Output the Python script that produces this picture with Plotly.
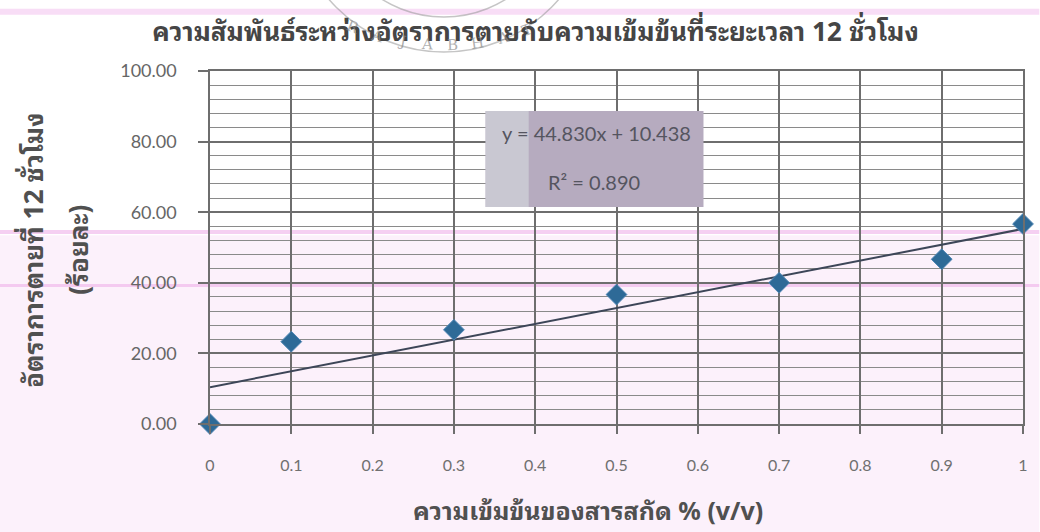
import numpy as np
import plotly.graph_objects as go

# Extract concentration (% v/v) and 12-hour mortality (%)
concentration = [0, 0.1, 0.3, 0.5, 0.7, 0.9, 1.0]
mortality_12h = [0.00, 23.33, 26.67, 36.67, 40.00, 46.67, 56.67]

# Linear trendline as reported on the chart
slope = 44.830
intercept = 10.438
r_squared = 0.890

x_ticks = [0, 0.1, 0.2, 0.3, 0.4, 0.5, 0.6, 0.7, 0.8, 0.9, 1]

title_text = "ความสัมพันธ์ระหว่างอัตราการตายกับความเข้มข้นที่ระยะเวลา 12 ชั่วโมง"
y_title_1 = "อัตราการตายที่ 12 ชั่วโมง"
y_title_2 = "(ร้อยละ)"
x_title = "ความเข้มข้นของสารสกัด % (v/v)"

THAI_FONT = "Noto Sans Thai Looped, Noto Serif Thai, Noto Sans, DejaVu Sans, sans-serif"
NUM_FONT = "Lato, Open Sans, sans-serif"

trend_x = np.array([x_ticks[0], x_ticks[-1]], dtype=float)
trend_y = slope * trend_x + intercept

fig = go.Figure()

fig.add_trace(go.Scatter(
    x=trend_x, y=trend_y, mode="lines",
    line=dict(color="#3d4658", width=2),
    hoverinfo="skip", showlegend=False, cliponaxis=False,
))

fig.add_trace(go.Scatter(
    x=concentration, y=mortality_12h, mode="markers",
    marker=dict(symbol="diamond", size=16, color="#2e6a97",
                line=dict(color="#4f86b4", width=1)),
    showlegend=False, cliponaxis=False,
))

def to_paper(px, py):
    """Page pixel position -> paper coordinates of the plot area."""
    return (px - 210) / 817.0, (424 - py) / 353.0

shapes = []
# scanner tint and streaks on the page
shapes.append(dict(type="rect", xref="paper", yref="paper",
                   x0=-0.26, x1=1.02, y0=-0.31, y1=0.535,
                   fillcolor="rgba(246,214,244,0.35)", line=dict(width=0), layer="below"))
for yp, w, c in [(0.544, 4, "rgba(236,170,232,0.55)"),
                 (0.392, 3, "rgba(236,170,232,0.55)"),
                 (1.168, 6, "rgba(240,180,236,0.45)")]:
    shapes.append(dict(type="line", xref="paper", yref="paper",
                       x0=-0.26, x1=1.02, y0=yp, y1=yp,
                       line=dict(color=c, width=w), layer="below"))

# faint stamp outline at the top of the page
px0, py0 = 445.0, -101.0
for r in (153, 118):
    xa, ya = to_paper(px0 - r, py0 - r)
    xb, yb = to_paper(px0 + r, py0 + r)
    shapes.append(dict(type="circle", xref="paper", yref="paper",
                       x0=xa, x1=xb, y0=yb, y1=ya,
                       line=dict(color="rgba(150,150,150,0.55)", width=1.5),
                       layer="below"))

# equation box
shapes.append(dict(type="rect", xref="paper", yref="paper",
                   x0=0.339, x1=0.607, y0=0.615, y1=0.887,
                   fillcolor="#b6abbf", line=dict(width=0), layer="above"))
shapes.append(dict(type="rect", xref="paper", yref="paper",
                   x0=0.339, x1=0.392, y0=0.615, y1=0.887,
                   fillcolor="#c9c8d2", line=dict(width=0), layer="above"))
fig.update_layout(shapes=shapes)

annotations = [
    dict(text=f"y = {slope:.3f}x + {intercept:.3f}", xref="paper", yref="paper",
         x=0.475, y=0.824, xanchor="center", yanchor="middle", showarrow=False,
         font=dict(family=NUM_FONT, size=20, color="#55555f")),
    dict(text=f"R² = {r_squared:.3f}", xref="paper", yref="paper",
         x=0.472, y=0.686, xanchor="center", yanchor="middle", showarrow=False,
         font=dict(family=NUM_FONT, size=20, color="#55555f")),
    dict(text=f"<b>{y_title_1}</b>", xref="paper", yref="paper",
         x=-0.220, y=0.493, xanchor="center", yanchor="middle",
         textangle=-90, showarrow=False,
         font=dict(family=THAI_FONT, size=26, color="#505050")),
    dict(text=f"<b>{y_title_2}</b>", xref="paper", yref="paper",
         x=-0.165, y=0.493, xanchor="center", yanchor="middle",
         textangle=-90, showarrow=False,
         font=dict(family=THAI_FONT, size=26, color="#505050")),
    dict(text=f"<b>{x_title}</b>", xref="paper", yref="paper",
         x=0.465, y=-0.240, xanchor="center", yanchor="middle", showarrow=False,
         font=dict(family=THAI_FONT, size=25, color="#505050")),
]

# stamp lettering along its lower arc
stamp_letters = "RAJABHAT"
arc_cx, arc_cy, arc_r = 445.0, -200.0, 245.0
angles = np.linspace(-22, 20, len(stamp_letters))
for ch, a in zip(stamp_letters, angles):
    t = np.deg2rad(a)
    ax_, ay_ = to_paper(arc_cx + arc_r * np.sin(t), arc_cy + arc_r * np.cos(t))
    annotations.append(dict(text=ch, xref="paper", yref="paper", x=ax_, y=ay_,
                            xanchor="center", yanchor="middle",
                            showarrow=False, textangle=-a,
                            font=dict(family="DejaVu Serif, serif", size=15,
                                      color="rgba(140,140,140,0.7)")))
fig.update_layout(annotations=annotations)

fig.update_layout(
    width=1040, height=532,
    margin=dict(l=210, r=13, t=71, b=108),
    paper_bgcolor="white", plot_bgcolor="rgba(0,0,0,0)",
    title=dict(text=f"<b>{title_text}</b>", x=0.515, xref="container",
               y=0.94, yref="container", xanchor="center", yanchor="middle",
               font=dict(family=THAI_FONT, size=26, color="#454545")),
    xaxis=dict(range=[0, 1], tickvals=x_ticks,
               ticktext=[f"{v:g}" for v in x_ticks],
               showgrid=True, gridcolor="#6e6e6e", gridwidth=1.5,
               zeroline=False, showline=True, linecolor="#6e6e6e", linewidth=1.5,
               mirror=True, ticks="outside", ticklen=8, tickcolor="#6e6e6e",
               tickwidth=1.5, ticklabelstandoff=18,
               tickfont=dict(family=NUM_FONT, size=16, color="#707070")),
    yaxis=dict(range=[0, 100], dtick=20, tickformat=".2f",
               showgrid=True, gridcolor="#6e6e6e", gridwidth=1.5,
               minor=dict(dtick=4, showgrid=True, gridcolor="#8a8a8a", gridwidth=1),
               zeroline=False, showline=True, linecolor="#6e6e6e", linewidth=1.5,
               mirror=True, ticks="outside", ticklen=10, tickcolor="#6e6e6e",
               tickwidth=1.5, ticklabelstandoff=18,
               tickfont=dict(family=NUM_FONT, size=18, color="#666666")),
)

fig.write_html("out.html")
